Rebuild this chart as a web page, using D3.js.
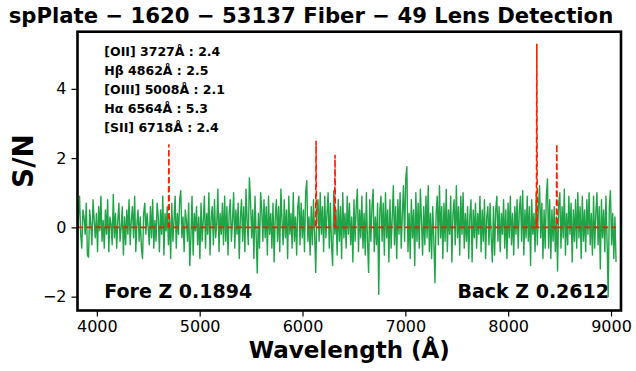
<!DOCTYPE html>
<html>
<head>
<meta charset="utf-8">
<script src="https://cdn.jsdelivr.net/npm/d3@7"></script>
<style>
  body { margin: 0; background: #fff; }
  svg { display: block; font-family: "DejaVu Sans", sans-serif; }
</style>
</head>
<body>
<div id="chart"></div>
<script>
// emission lines found in the background galaxy
const lineNames = ["[OII]", "Hβ", "[OIII]", "Hα", "[SII]"];
const restWaves = [3727, 4862, 5008, 6564, 6718];
const lineSN = [2.4, 2.5, 2.1, 5.3, 2.4];
const foreZ = 0.1894;
const backZ = 0.2612;

const xTicks = [4000, 5000, 6000, 7000, 8000, 9000];
const yTicks = [-2, 0, 2, 4];

// first and last wavelength of the residual spectrum
const waveRange = [3810, 9049];
// residual S/N left to right
const snValues = [
  -0.4, 0.3, 0.9, -0.2, -0.6, 0.5, 0.3, -0.2, 0.7, -0.8, -0.86, 0.5, 0.1, -0.5, 0.8, 0.2, -0.3, 0.4, -0.7, 0.6,
  -0.1, 0.9, -0.4, 0.2, -0.6, 0.5, -0.2, 0.8, -0.7, 0.3, 0.1, -0.5, 0.95, -0.3, 0.4, -0.6, 0.2, 0.7, -0.4, 0.0,
  0.6, -0.8, 0.3, -0.5, 0.5, -0.2, 0.8, -0.5, 0.2, 0.6, -0.3, 0.9, -0.7, 0.1, 0.5, -0.4, 0.3, -0.6, -0.9, 0.4,
  0.7, -0.2, 0.4, 0.0, -0.5, 0.6, -0.3, 0.8, -0.6, 0.2, -0.4, 0.7, 0.3, -0.7, 0.5, -0.2, 0.9, -0.8, 0.4, -0.1,
  0.6, -0.5, 0.3, -0.9, 0.7, -0.4, 0.2, 0.9, -0.6, 0.4, -0.2, 0.8, 1.06, -0.3, 0.3, -0.7, 0.5, 0.2, -0.4, 0.7,
  -1.1, -0.3, 0.9, -0.8, 0.4, -0.1, 0.6, -0.5, 0.3, -0.9, 0.7, -0.4, 0.2, 0.9, -0.6, 0.4, -0.2, 1.0, -0.8, 0.3,
  0.6, -0.5, 0.8, -0.3, 0.1, 1.1, -0.7, 0.4, -0.2, 0.7, -0.5, 0.9, -0.4, 0.6, -0.8, 0.4, 0.8, -0.4, 0.2, 1.0,
  -0.6, 0.5, -0.2, 0.7, -0.9, 0.3, 0.8, -0.4, 0.6, -0.7, 1.1, 0.2, -0.5, 1.43, 0.8, -0.3, 0.5, -0.9, 0.9, -0.2,
  -1.32, 0.4, -0.6, 1.0, 0.5, -0.4, 0.8, -0.3, 0.6, -0.8, 0.9, -0.2, 0.4, -0.6, 0.7, -1.0, 0.3, 0.8, -0.4, 0.6,
  -0.7, 1.1, 0.2, -0.5, 0.8, -0.3, 0.5, -0.9, 0.9, -0.2, 0.4, -0.6, 1.0, -0.4, 0.3, -0.8, 0.6, 0.9, -0.5, 0.7,
  -0.3, 0.5, -0.7, 1.0, 1.35, -0.4, 0.3, -0.8, 0.6, -0.5, 0.8, -0.2, -1.3, 0.5, 0.8, -0.4, 1.0, -0.2, 0.6, -0.7,
  0.9, -0.3, 0.4, 1.0, -0.6, 0.7, -0.5, -1.1, 1.05, -0.2, 0.5, -0.8, 0.8, -0.4, 0.6, -0.9, 1.0, -0.3, 0.4, -0.6,
  0.9, -0.2, 0.7, -0.5, 0.3, -1.0, 0.8, -0.4, 0.6, 1.1, -0.7, 0.5, -0.3, 0.9, -0.6, 0.4, -0.8, 1.0, -0.4, -1.3,
  0.8, -0.4, 0.6, 1.1, -0.7, 0.3, -0.5, 0.7, -1.93, 0.5, 0.9, -0.4, 0.7, -0.8, 1.0, -0.3, 0.5, -1.0, 0.8, -0.6,
  0.3, 1.2, -0.5, 0.6, -0.9, 0.8, -0.2, 1.0, -0.6, 0.4, 1.2, -0.4, 1.4, 1.75, -0.7, 0.4, -0.9, 0.8, -0.3, 0.5,
  -1.1, 1.0, -0.4, 0.7, -0.6, 1.1, 0.2, -0.8, 0.6, -0.5, 0.9, -0.3, 1.2, -0.7, 0.4, -0.9, 0.6, -0.4, -1.6, 0.4,
  0.9, -0.5, 1.2, -0.3, 0.6, -0.9, 0.7, -0.4, 1.1, -0.7, 0.5, -0.2, 0.9, -1.0, 0.4, 0.8, -0.5, 1.2, -0.3, 0.6,
  -0.8, 0.9, -0.2, 1.0, -0.6, 0.4, -0.4, 0.6, -0.9, 0.3, 0.8, -1.0, 0.5, -0.3, 0.7, -0.6, 0.4, -0.2, 0.9, -0.7,
  0.5, -0.4, 0.8, -0.9, 0.3, 0.6, -0.5, 0.7, -0.3, -1.0, 0.6, -0.8, 0.5, 0.9, -0.4, 0.6, -0.7, 0.4, -0.2, 0.8,
  -0.6, 0.5, -0.9, 0.7, -0.3, 0.9, -0.5, 0.4, -0.8, 0.6, -0.2, 0.8, -0.6, 0.5, 0.9, -0.4, 1.06, -0.8, 0.5, -0.3,
  0.9, -0.4, 0.6, -1.1, 0.8, -0.2, 0.4, -0.7, 1.0, -0.5, 0.6, 1.2, -0.3, 0.7, -0.9, 0.5, -0.6, 0.9, 1.4, -0.6,
  0.8, -0.9, 0.5, -0.4, 0.6, -0.7, 0.3, -1.26, 0.7, 1.0, -0.6, 0.6, -0.3, 1.1, -0.8, 0.4, -0.5, 0.9, -0.2, 0.7,
  -1.0, 0.5, -0.4, 0.8, -0.6, 1.0, -0.3, 0.6, -0.9, 0.9, -0.4, 0.5, -0.7, 0.8, -0.2, 1.0, -0.5, 0.4, -0.8, 0.9,
  -0.6, 0.4, 1.0, -0.5, 0.6, -1.2, 0.8, -0.3, 0.5, -0.7, 0.9, -0.4, -2.0, 0.6, 1.06, -0.5, 0.4, -0.9, 0.3, -1.0
];

const w = 636, h = 371;
const plotL = 77.5, plotR = 621, plotT = 31.7, plotB = 310.5;

const svg = d3.select("#chart").append("svg")
  .attr("width", w)
  .attr("height", h);

const x = d3.scaleLinear().domain([3812, 9097]).range([plotL, plotR]);
const y = d3.scaleLinear().domain([-2.40, 5.65]).range([plotB, plotT]);

svg.append("clipPath").attr("id", "plot")
  .append("rect")
  .attr("x", plotL).attr("y", plotT)
  .attr("width", plotR - plotL).attr("height", plotB - plotT);

// residual spectrum
const step = (waveRange[1] - waveRange[0]) / (snValues.length - 1);
const spec = snValues.map((v, i) => [waveRange[0] + i * step, v]);

const line = d3.line().x(d => x(d[0])).y(d => y(d[1]));

svg.append("path")
  .datum(spec)
  .attr("clip-path", "url(#plot)")
  .attr("fill", "none")
  .attr("stroke", "#1fa447")
  .attr("stroke-width", 1.4)
  .attr("stroke-linejoin", "round")
  .attr("d", line);

// line model: flat zero with narrow spikes at the redshifted lines
let model = [[waveRange[0], 0]];
restWaves.forEach((rw, i) => {
  const c = rw * (1 + backZ);
  model.push([c - 4, 0], [c, lineSN[i]], [c + 4, 0]);
});
model.push([waveRange[1], 0]);

svg.append("path")
  .datum(model)
  .attr("clip-path", "url(#plot)")
  .attr("fill", "none")
  .attr("stroke", "#ff1a00")
  .attr("stroke-width", 1.6)
  .attr("stroke-dasharray", "6,3")
  .attr("d", line);

// axes
const xAxis = svg.append("g")
  .attr("transform", `translate(0,${plotB})`)
  .call(d3.axisBottom(x).tickValues(xTicks).tickSize(6).tickPadding(4).tickFormat(d3.format("d")));
const yAxis = svg.append("g")
  .attr("transform", `translate(${plotL},0)`)
  .call(d3.axisLeft(y).tickValues(yTicks).tickSize(6).tickPadding(5));

[xAxis, yAxis].forEach(g => {
  g.select(".domain").remove();
  g.selectAll("line").attr("stroke", "#000").attr("stroke-width", 1.2);
  g.selectAll("text")
    .attr("fill", "#000")
    .style("font-family", "DejaVu Sans")
    .style("font-size", "16px");
});

// frame
svg.append("rect")
  .attr("x", plotL).attr("y", plotT)
  .attr("width", plotR - plotL).attr("height", plotB - plotT)
  .attr("fill", "none")
  .attr("stroke", "#000")
  .attr("stroke-width", 2.6);

// titles
svg.append("text")
  .attr("x", 311).attr("y", 22.5)
  .attr("text-anchor", "middle")
  .style("font-weight", "bold").style("font-size", "21.2px")
  .text("spPlate − 1620 − 53137 Fiber − 49 Lens Detection");

svg.append("text")
  .attr("x", (plotL + plotR) / 2).attr("y", 358)
  .attr("text-anchor", "middle")
  .style("font-weight", "bold").style("font-size", "23px")
  .text("Wavelength (Å)");

svg.append("text")
  .attr("transform", "translate(33,161) rotate(-90)")
  .attr("text-anchor", "middle")
  .style("font-weight", "bold").style("font-size", "28px")
  .text("S/N");

// line list
svg.selectAll(".lineinfo")
  .data(lineNames)
  .enter().append("text")
  .attr("class", "lineinfo")
  .attr("x", 104.3)
  .attr("y", (d, i) => 56 + i * 19.1)
  .style("font-weight", "bold").style("font-size", "12.5px")
  .text((d, i) => `${d} ${restWaves[i]}Å : ${lineSN[i]}`);

svg.append("text")
  .attr("x", 104.3).attr("y", 298)
  .style("font-weight", "bold").style("font-size", "19px")
  .text(`Fore Z ${foreZ}`);

svg.append("text")
  .attr("x", 609).attr("y", 298)
  .attr("text-anchor", "end")
  .style("font-weight", "bold").style("font-size", "19px")
  .text(`Back Z ${backZ}`);
</script>
</body>
</html>
